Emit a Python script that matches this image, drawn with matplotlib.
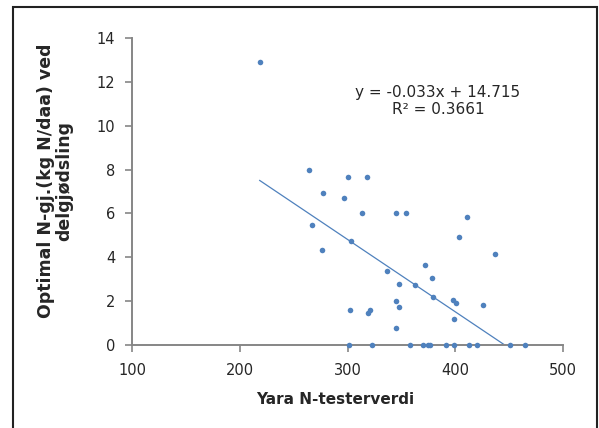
import matplotlib
matplotlib.use('agg')
import matplotlib.pyplot as plt
from matplotlib.patches import Rectangle
from matplotlib.transforms import IdentityTransform
import numpy as np

plt.rcParams["font.family"] = "DejaVu Sans"
plt.rcParams["text.color"] = '#262626'

# Yara N-tester value vs optimal N at split application
x_values = [218.5, 264.3, 300.5, 317.9, 277.1, 296.3, 313.0, 345.3, 354.1, 410.9,
            267.2, 303.4, 403.1, 276.0, 437.2, 337.1, 372.2, 378.3, 348.1, 363.0,
            379.0, 344.9, 398.1, 401.0, 426.1, 348.1, 301.9, 321.1, 319.0, 399.2,
            345.3,
            301.3, 323.2, 358.0, 370.0, 374.4, 376.5, 391.1, 398.9, 412.7, 419.8,
            450.6, 464.3]
y_values = [12.9, 8.0, 7.66, 7.67, 6.91, 6.70, 6.0, 6.0, 6.0, 5.83,
            5.46, 4.76, 4.94, 4.35, 4.16, 3.39, 3.63, 3.05, 2.79, 2.75,
            2.20, 2.0, 2.04, 1.92, 1.81, 1.74, 1.60, 1.59, 1.45, 1.17,
            0.78,
            0, 0, 0, 0, 0, 0, 0, 0, 0, 0,
            0, 0]

slope = -0.033
intercept = 14.715
equation_text = 'y = -0.033x + 14.715\nR² = 0.3661'

x_ticks = [100, 200, 300, 400, 500]
y_ticks = [0, 2, 4, 6, 8, 10, 12, 14]

W, H = 599, 428
fig = plt.figure(figsize=(W / 100, H / 100), dpi=100)
ax = fig.add_axes([132 / W, 1 - 345 / H, (563 - 132) / W, (345 - 38) / H])

blue = '#4F81BD'
grey = '#868686'

ax.scatter(x_values, y_values, s=16, color=blue, zorder=3, clip_on=False,
           linewidths=0)

trend_x = np.array([min(x_values), max(x_values)])
ax.plot(trend_x, slope * trend_x + intercept, color=blue, linewidth=0.9)

ax.set_xlim(100, 500)
ax.set_ylim(0, 14)
ax.set_xticks(x_ticks)
ax.set_yticks(y_ticks)

for side in ['top', 'right']:
    ax.spines[side].set_visible(False)
for side in ['left', 'bottom']:
    ax.spines[side].set_color(grey)
    ax.spines[side].set_linewidth(1.4)

ax.tick_params(axis='both', direction='out', length=5, width=1.2, color=grey,
               labelsize=10.5, labelcolor='#262626')
ax.tick_params(axis='x', pad=8)
ax.tick_params(axis='y', pad=7)

fig.text(438, H - 101, equation_text, transform=IdentityTransform(),
         ha='center', va='center', fontsize=11, linespacing=1.2)

fig.text(335 / W, 1 - 400 / H, 'Yara N-testerverdi', ha='center', va='center',
         fontsize=11, fontweight='bold')
fig.text(55 / W, 1 - 181 / H, 'Optimal N-gj.(kg N/daa) ved\ndelgjødsling',
         ha='center', va='center', rotation=90, fontsize=12.5,
         fontweight='bold', linespacing=1.0)

fig.patches.append(Rectangle((13 / W, -0.05), (597 - 13) / W, 1.05 - 7 / H,
                             transform=fig.transFigure, fill=False,
                             edgecolor='#222222', linewidth=1.5))

plt.savefig('out.png', dpi=100)
plt.close()
